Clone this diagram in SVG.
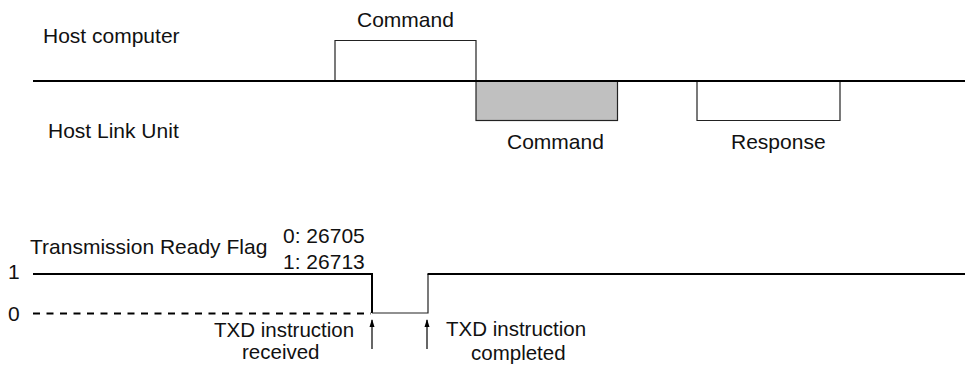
<svg xmlns="http://www.w3.org/2000/svg" width="965" height="367" viewBox="0 0 965 367">
  <defs>
    <marker id="arr" markerWidth="8" markerHeight="6" refX="7" refY="2.5" orient="auto" markerUnits="userSpaceOnUse" viewBox="0 0 8 5">
      <path d="M0,0 L8,2.5 L0,5 Z" fill="#000"/>
    </marker>
  </defs>
  <style>
    text { font-family: "Liberation Sans", Arial, sans-serif; font-size: 21px; fill: #111; }
    .thick { stroke: #000; stroke-width: 2; fill: none; }
    .thin { stroke: #222; stroke-width: 1.2; fill: none; }
    .dash { stroke: #000; stroke-width: 2; fill: none; stroke-dasharray: 7 6.5; }
    .arrow { stroke: #000; stroke-width: 1.2; fill: none; }
    .small { font-size: 20.5px; }
  </style>
  <rect width="965" height="367" fill="#fff"/>

  <g id="label-host"><text x="43" y="42.5">Host computer</text></g>
  <g id="label-hlu"><text x="48" y="137.5">Host Link Unit</text></g>

  <g id="host-command">
    <path class="thin" d="M335,81 V40.5 H476 V81"/>
    <text x="357" y="26.5">Command</text>
  </g>
  <g id="hlu-command">
    <rect x="476" y="81" width="141.5" height="39.5" fill="#c0c0c0" stroke="#222" stroke-width="1.2"/>
    <text x="507" y="149">Command</text>
  </g>
  <g id="hlu-response">
    <path class="thin" d="M697,81 V120.5 H840 V81"/>
    <text x="731" y="149">Response</text>
  </g>

  <g id="flag-label">
    <text x="30" y="254">Transmission Ready Flag</text>
    <text x="283" y="243">0: 26705</text>
    <text x="283" y="269">1: 26713</text>
    <text x="8" y="279">1</text>
    <text x="8" y="321">0</text>
  </g>

  <g id="txd-received">
    <text class="small" x="214" y="336.5">TXD instruction</text>
    <text class="small" x="242" y="358.5">received</text>
  </g>
  <g id="txd-completed">
    <text class="small" x="446" y="335.5">TXD instruction</text>
    <text class="small" x="471" y="359.5">completed</text>
  </g>

  <g id="connectors">
    <line class="thick" x1="33" y1="81" x2="965" y2="81"/>
    <path class="dash" d="M33,313.5 H371"/>
    <path class="thick" d="M33,274 H372 V313"/>
    <path class="thin" d="M372,313 H428 V274"/>
    <path class="thick" d="M427.5,274 H965"/>
    <line class="arrow" x1="372" y1="349" x2="372" y2="320" marker-end="url(#arr)"/>
    <line class="arrow" x1="427" y1="349" x2="427" y2="320" marker-end="url(#arr)"/>
  </g>
</svg>
